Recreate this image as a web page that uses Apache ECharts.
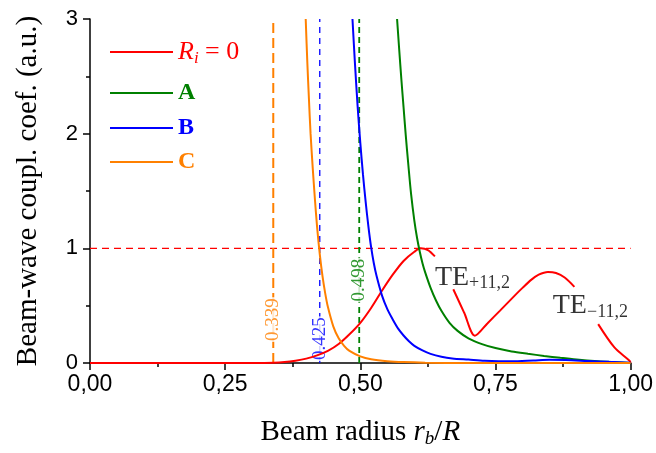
<!DOCTYPE html>
<html>
<head>
<meta charset="utf-8">
<script src="https://cdn.jsdelivr.net/npm/echarts@6/dist/echarts.min.js"></script>
<style>
html, body { margin: 0; padding: 0; background: #fff; }
#main { width: 656px; height: 453px; }
</style>
</head>
<body>
<div id="main"></div>
<script>
// R_i = 0 curve (null = gap under the TE labels)
var redX = [0, 0.30, 0.34, 0.36, 0.38, 0.40, 0.42, 0.44, 0.46, 0.48, 0.50, 0.52, 0.54, 0.56, 0.58, 0.60, 0.612, 0.625, 0.638, 0.65, 0.672, 0.692, 0.712, 0.735, 0.758, 0.786, 0.80, 0.816, 0.83, 0.847, 0.862, 0.878, 0.896, 0.92, 0.94, 0.97, 0.998, 1.0];
var redY = [0, 0, 0.002, 0.008, 0.02, 0.038, 0.066, 0.105, 0.165, 0.25, 0.35, 0.48, 0.63, 0.77, 0.89, 0.97, 1.0, 0.985, 0.93, null, 0.643, 0.44, 0.238, 0.345, 0.455, 0.59, 0.655, 0.725, 0.77, 0.794, 0.785, 0.745, 0.664, null, 0.339, 0.136, 0.02, 0];
// case A
var aX = [0.568, 0.572, 0.576, 0.58, 0.584, 0.589, 0.594, 0.60, 0.605, 0.61, 0.615, 0.62, 0.63, 0.64, 0.65, 0.665, 0.68, 0.70, 0.725, 0.75, 0.78, 0.81, 0.84, 0.87, 0.90, 0.94, 0.97, 1.0];
var aY = [3.0, 2.73, 2.47, 2.23, 1.99, 1.72, 1.47, 1.24, 1.09, 0.97, 0.87, 0.79, 0.655, 0.545, 0.455, 0.35, 0.28, 0.215, 0.165, 0.13, 0.1, 0.08, 0.062, 0.045, 0.03, 0.015, 0.007, 0];
// case B
var bX = [0.4855, 0.49, 0.495, 0.50, 0.505, 0.51, 0.515, 0.52, 0.525, 0.53, 0.54, 0.55, 0.56, 0.57, 0.58, 0.59, 0.60, 0.615, 0.63, 0.65, 0.67, 0.70, 0.73, 0.78, 0.82, 0.85, 0.88, 0.92, 0.96, 1.0];
var bY = [3.0, 2.62, 2.24, 1.92, 1.64, 1.40, 1.19, 1.01, 0.87, 0.76, 0.59, 0.47, 0.38, 0.30, 0.24, 0.19, 0.15, 0.11, 0.08, 0.055, 0.04, 0.03, 0.02, 0.015, 0.022, 0.028, 0.026, 0.018, 0.01, 0.003];
// case C
var cX = [0.399, 0.402, 0.405, 0.408, 0.412, 0.416, 0.42, 0.425, 0.43, 0.435, 0.44, 0.45, 0.46, 0.47, 0.48, 0.50, 0.52, 0.55, 0.58, 0.62, 0.70, 1.0];
var cY = [3.0, 2.62, 2.3, 2.0, 1.7, 1.43, 1.19, 0.95, 0.76, 0.61, 0.49, 0.32, 0.215, 0.15, 0.105, 0.058, 0.033, 0.016, 0.008, 0.003, 0, 0];

// critical radii (vertical dashed lines) and where their labels sit
var cutoffs = [0.339, 0.425, 0.498];
var cutoffLabelY = [0.37, 0.29, 0.75];
var cutoffColors = ['#ff8000', '#0000ff', '#008000'];
var unitLevel = 1;

// mode labels
var modeNames = ['+11,2', '\u221211,2'];
var modeX = [0.638, 0.856];
var modeY = [0.748, 0.496];

var RED = '#ff0000', GREEN = '#008000', BLUE = '#0000ff', ORANGE = '#ff8000';
var SERIF = '"Liberation Serif", "Times New Roman", serif';
var SANS = '"Liberation Sans", Arial, sans-serif';

function pairs(xs, ys) {
    return xs.map(function (x, i) { return [x, ys[i] === null ? '-' : ys[i]]; });
}

var myChart = echarts.init(document.getElementById('main'));

var series = [
    { name: 'R', type: 'line', data: pairs(redX, redY), color: RED },
    { name: 'A', type: 'line', data: pairs(aX, aY), color: GREEN },
    { name: 'B', type: 'line', data: pairs(bX, bY), color: BLUE },
    { name: 'C', type: 'line', data: pairs(cX, cY), color: ORANGE }
].map(function (s) {
    s.showSymbol = false;
    s.symbol = 'none';
    s.smooth = 0.3;
    s.lineStyle = { width: 2, color: s.color };
    s.z = 5;
    return s;
});

// horizontal dashed line at 1
series.push({
    type: 'line', data: [[0, unitLevel], [1, unitLevel]], symbol: 'none', silent: true,
    lineStyle: { color: RED, width: 1.4, type: [7, 5] }, z: 3
});

// vertical dashed lines
var dashStyles = [
    { width: 2, type: [10, 5] },
    { width: 1.3, type: [6, 5] },
    { width: 1.8, type: [6, 4] }
];
cutoffs.forEach(function (c, i) {
    series.push({
        type: 'line', data: [[c, 0], [c, 3]], symbol: 'none', silent: true,
        lineStyle: { color: cutoffColors[i], width: dashStyles[i].width, type: dashStyles[i].type }, z: 3
    });
});

// rotated value labels on the dashed lines
var labelOffsets = [[1, 0], [-9, 0], [-3, 0]];
cutoffs.forEach(function (c, i) {
    series.push({
        type: 'scatter', symbolSize: 0, silent: true, z: 4,
        data: [[c, cutoffLabelY[i]]],
        label: {
            show: true, position: 'inside', rotate: 90, offset: labelOffsets[i],
            formatter: String(c), color: cutoffColors[i],
            fontFamily: SERIF, fontSize: 19, backgroundColor: '#fff', padding: [0, 1]
        }
    });
});

// TE mode labels
modeNames.forEach(function (m, i) {
    series.push({
        type: 'scatter', symbolSize: 0, silent: true, z: 6,
        data: [[modeX[i], modeY[i]]],
        label: {
            show: true, position: 'inside', align: 'left', verticalAlign: 'middle',
            formatter: '{t|TE}{s|' + m + '}',
            rich: {
                t: { fontFamily: SERIF, fontSize: 28, color: '#000', lineHeight: 30 },
                s: { fontFamily: SERIF, fontSize: 18, color: '#000', lineHeight: 14, verticalAlign: 'bottom' }
            }
        }
    });
});

function legendFor(name, top, lineHeight) {
    return {
        data: [name], left: 110, top: top, padding: 0, selectedMode: false,
        icon: 'rect', itemWidth: 63, itemHeight: 2,
        formatter: function (n) {
            if (n === 'R') return '{ri|R}{rs|i}{rn| = 0}';
            return '{' + n.toLowerCase() + '|' + n + '}';
        },
        textStyle: {
            lineHeight: lineHeight,
            rich: {
                ri: { fontFamily: SERIF, fontStyle: 'italic', fontSize: 26, color: RED, lineHeight: 30 },
                rs: { fontFamily: SERIF, fontStyle: 'italic', fontSize: 17, color: RED, lineHeight: 12, verticalAlign: 'bottom' },
                rn: { fontFamily: SERIF, fontSize: 26, color: RED, lineHeight: 30 },
                a: { fontFamily: SERIF, fontWeight: 'bold', fontSize: 24, color: GREEN, lineHeight: 24 },
                b: { fontFamily: SERIF, fontWeight: 'bold', fontSize: 24, color: BLUE, lineHeight: 24 },
                c: { fontFamily: SERIF, fontWeight: 'bold', fontSize: 24, color: ORANGE, lineHeight: 24 }
            }
        }
    };
}

myChart.setOption({
    animation: false,
    backgroundColor: '#fff',
    grid: { left: 90, right: 25, top: 19, bottom: 89 },
    legend: [
        legendFor('R', 37, 30),
        legendFor('A', 81, 24),
        legendFor('B', 116, 24),
        legendFor('C', 150, 24)
    ],
    xAxis: {
        type: 'value', min: 0, max: 1, interval: 0.25,
        name: 'Beam radius {i|r}{sb|b}{n|/}{i|R}',
        nameLocation: 'middle', nameGap: 53,
        nameTextStyle: {
            fontFamily: SERIF, fontSize: 29, color: '#000', lineHeight: 32,
            rich: {
                i: { fontFamily: SERIF, fontStyle: 'italic', fontSize: 29, color: '#000', lineHeight: 32 },
                sb: { fontFamily: SERIF, fontStyle: 'italic', fontSize: 19, color: '#000', lineHeight: 12, verticalAlign: 'bottom' },
                n: { fontFamily: SERIF, fontSize: 29, color: '#000', lineHeight: 32 }
            }
        },
        axisLine: { lineStyle: { color: '#000', width: 1.5 } },
        axisTick: { length: 7, lineStyle: { color: '#000', width: 1.5 } },
        minorTick: { show: true, splitNumber: 2, length: 4, lineStyle: { color: '#000', width: 1.5 } },
        splitLine: { show: false },
        axisLabel: {
            margin: 10, fontFamily: SANS, fontSize: 23, color: '#000',
            formatter: function (v) { return v.toFixed(2).replace('.', ','); }
        }
    },
    yAxis: {
        type: 'value', min: 0, max: 3, interval: 1,
        name: 'Beam-wave coupl. coef. (a.u.)',
        nameLocation: 'middle', nameGap: 46, nameRotate: 90,
        nameTextStyle: { fontFamily: SERIF, fontSize: 29, color: '#000', lineHeight: 32 },
        axisLine: { show: true, lineStyle: { color: '#000', width: 1.5 } },
        axisTick: { show: true, length: 7, lineStyle: { color: '#000', width: 1.5 } },
        minorTick: { show: true, splitNumber: 2, length: 4, lineStyle: { color: '#000', width: 1.5 } },
        splitLine: { show: false },
        axisLabel: { margin: 12, fontFamily: SANS, fontSize: 22, color: '#000' }
    },
    series: series
});
</script>
</body>
</html>
